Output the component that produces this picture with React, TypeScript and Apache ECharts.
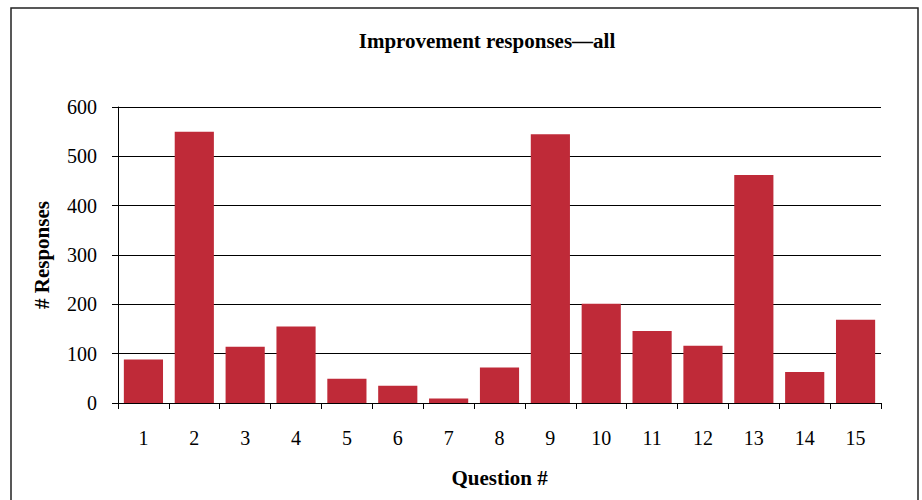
import React, { useEffect, useRef } from "react";
import * as echarts from "echarts";

const categories = ["1", "2", "3", "4", "5", "6", "7", "8", "9", "10", "11", "12", "13", "14", "15"];
const responses = [88, 550, 114, 155, 49, 35, 9, 72, 545, 201, 146, 116, 462, 63, 169];
const yTicks = { min: 0, max: 600, interval: 100 };

const FONT = "'Liberation Serif', 'DejaVu Serif', serif";

export default function App() {
  const ref = useRef<HTMLDivElement>(null);
  useEffect(() => {
    if (!ref.current) return;
    const chart = echarts.init(ref.current, null, { renderer: "svg" });
    chart.setOption({
      animation: false,
      backgroundColor: "#ffffff",
      textStyle: { fontFamily: FONT, color: "#000" },
      title: {
        text: "Improvement responses\u2014all",
        left: 482,
        top: 25,
        textAlign: "center",
        textStyle: { fontFamily: FONT, fontSize: 21, fontWeight: "bold", color: "#000" },
      },
      graphic: [
        {
          type: "rect",
          shape: { x: 11, y: 8, width: 907, height: 520 },
          style: { fill: "none", stroke: "#222", lineWidth: 1.5 },
          silent: true,
        },
      ],
      grid: { left: 118, right: 41, top: 107, bottom: 97 },
      xAxis: {
        type: "category",
        data: categories,
        boundaryGap: true,
        name: "Question #",
        nameLocation: "middle",
        nameGap: 64,
        nameTextStyle: { fontFamily: FONT, fontSize: 21, fontWeight: "bold", color: "#000" },
        axisLine: { show: true, lineStyle: { color: "#000", width: 1 } },
        axisTick: { show: true, alignWithLabel: false, length: 6, lineStyle: { color: "#000" } },
        axisLabel: { fontFamily: FONT, fontSize: 20, color: "#000", margin: 25 },
        splitLine: { show: false },
      },
      yAxis: {
        type: "value",
        min: yTicks.min,
        max: yTicks.max,
        interval: yTicks.interval,
        name: "# Responses",
        nameLocation: "middle",
        nameGap: 66,
        nameRotate: 90,
        nameTextStyle: { fontFamily: FONT, fontSize: 21, fontWeight: "bold", color: "#000" },
        axisLine: { show: true, lineStyle: { color: "#000", width: 1 } },
        axisTick: { show: true, length: 6, lineStyle: { color: "#000" } },
        axisLabel: { fontFamily: FONT, fontSize: 20, color: "#000", margin: 21 },
        splitLine: { show: true, lineStyle: { color: "#000", width: 1 } },
      },
      series: [
        {
          type: "bar",
          data: responses,
          barCategoryGap: "23%",
          itemStyle: { color: "#BF2A38" },
        },
      ],
    });
    return () => chart.dispose();
  }, []);
  return (
    <div
      ref={ref}
      style={{ position: "absolute", left: 0, top: 0, width: 922, height: 500 }}
    />
  );
}
